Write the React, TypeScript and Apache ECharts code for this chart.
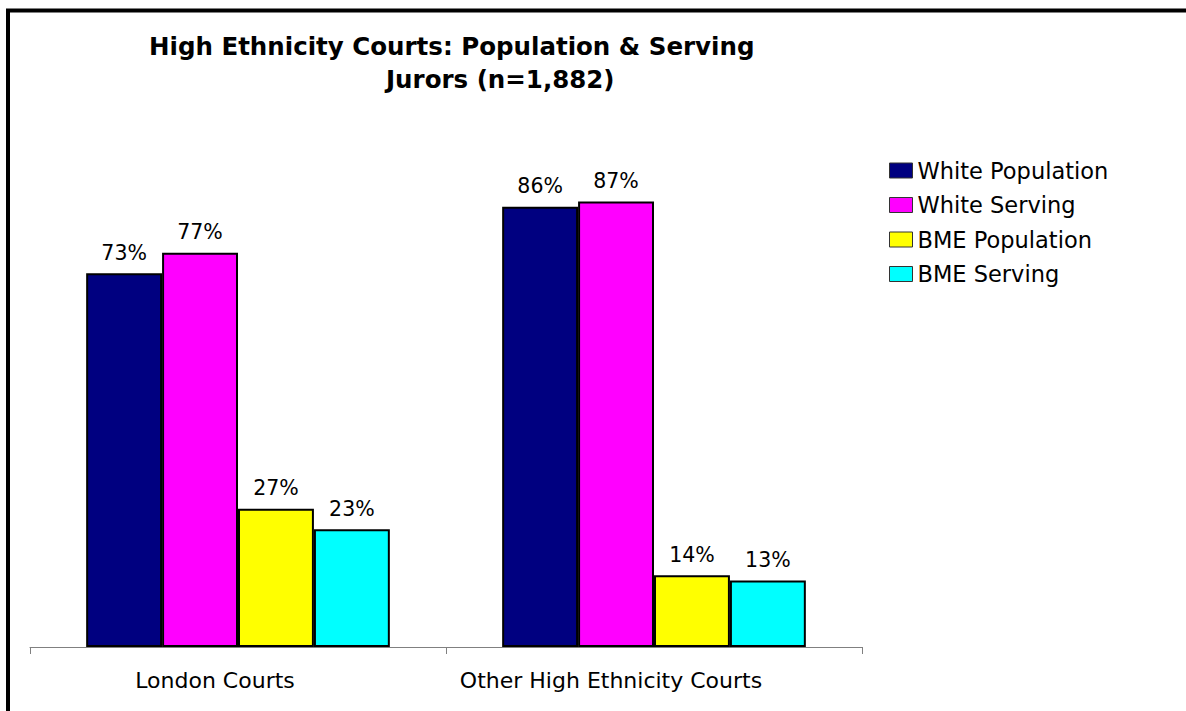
import React, { useEffect, useRef } from "react";
import * as echarts from "echarts";

const categories = ["London Courts", "Other High Ethnicity Courts"];
const seriesNames = ["White Population", "White Serving", "BME Population", "BME Serving"];
const whitePopulation = [73, 86];
const whiteServing = [77, 87];
const bmePopulation = [27, 14];
const bmeServing = [23, 13];
const seriesColors = ["#000080", "#FF00FF", "#FFFF00", "#00FFFF"];
const titleLine1 = "High Ethnicity Courts: Population & Serving";
const titleLine2 = "Jurors (n=1,882)";

const FONT = "DejaVu Sans";

export default function App() {
  const ref = useRef<HTMLDivElement>(null);
  useEffect(() => {
    if (!ref.current) return;
    const chart = echarts.init(ref.current, null, { renderer: "svg" });
    const values = [whitePopulation, whiteServing, bmePopulation, bmeServing];
    chart.setOption({
      animation: false,
      backgroundColor: "#ffffff",
      title: [
        {
          text: titleLine1,
          left: 149,
          top: 34,
          padding: 0,
          textStyle: { fontFamily: FONT, fontSize: 24.5, fontWeight: "bold", color: "#000", lineHeight: 24 },
        },
        {
          text: titleLine2,
          left: 386,
          top: 67,
          padding: 0,
          textStyle: { fontFamily: FONT, fontSize: 24.5, fontWeight: "bold", color: "#000", lineHeight: 24 },
        },
      ],
      legend: {
        orient: "vertical",
        left: 889,
        top: 159,
        padding: 0,
        itemWidth: 23,
        itemHeight: 15,
        itemGap: 11.5,
        icon: "rect",
        data: seriesNames,
        textStyle: { fontFamily: FONT, fontSize: 22.5, color: "#000" },
        itemStyle: { borderColor: "#333", borderWidth: 1 },
      },
      grid: { left: 30, right: 324, top: 135, bottom: 64, containLabel: false },
      xAxis: {
        type: "category",
        data: categories,
        axisLine: { show: true, lineStyle: { color: "#808080", width: 1 } },
        axisTick: { show: true, interval: 0, length: 7, alignWithLabel: false, lineStyle: { color: "#808080" } },
        axisLabel: {
          interval: 0,
          hideOverlap: false,
          fontFamily: FONT,
          fontSize: 22,
          color: "#000",
          margin: 22,
          formatter: (v: string, i: number) => (i === 0 ? `{a|${v}}` : `{b|${v}}`),
          rich: {
            a: { fontFamily: FONT, fontSize: 22, lineHeight: 22, color: "#000", padding: [0, 46, 0, 0] },
            b: { fontFamily: FONT, fontSize: 22, lineHeight: 22, color: "#000", padding: [0, 86, 0, 0] },
          },
        },
      },
      yAxis: {
        type: "value",
        min: 0,
        max: 100,
        show: false,
        splitLine: { show: false },
      },
      graphic: [
        {
          type: "rect",
          shape: { x: 8, y: 10.5, width: 1300, height: 900 },
          style: { fill: "none", stroke: "#000", lineWidth: 4 },
          silent: true,
        },
      ],
      series: seriesNames.map((name, i) => ({
        name,
        type: "bar",
        data: values[i],
        barGap: "0%",
        barCategoryGap: "27%",
        itemStyle: { color: seriesColors[i], borderColor: "#000", borderWidth: 2 },
        label: {
          show: true,
          position: "top",
          distance: 10,
          formatter: "{c}%",
          fontFamily: FONT,
          fontSize: 20.5,
          color: "#000",
        },
      })),
    });
    return () => chart.dispose();
  }, []);
  return (
    <div style={{ position: "fixed", left: 0, top: 0, width: 1186, height: 711 }}>
      <div ref={ref} style={{ width: 1186, height: 711 }} />
    </div>
  );
}
